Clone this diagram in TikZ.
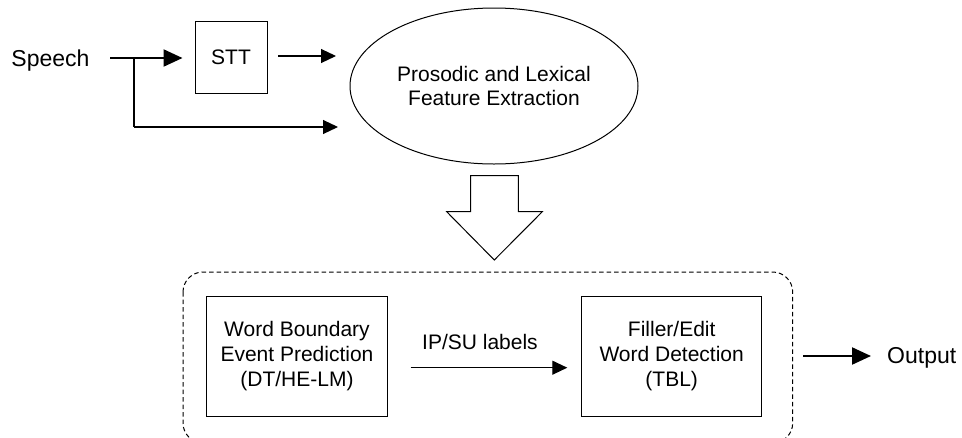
\documentclass[tikz,border=0pt]{standalone}
\usepackage{fontspec}
\setmainfont{Liberation Sans}
\usetikzlibrary{arrows.meta,shapes.geometric}
\begin{document}
\begin{tikzpicture}[x=1pt,y=-1pt,
  txt/.style={inner sep=0pt,font=\fontsize{21}{24.5}\selectfont},
  bigtxt/.style={inner sep=0pt,font=\fontsize{23}{27}\selectfont},
  boxnode/.style={draw,line width=1pt,inner sep=0pt,align=center,font=\fontsize{21}{24.8}\selectfont},
  thin arrow/.style={line width=1.1pt,-{Triangle[length=15pt,width=14pt]}},
  thick arrow/.style={line width=2.2pt,-{Triangle[length=19pt,width=17pt]}},
  groupbox/.style={draw,line width=1pt,dash pattern=on 4.5pt off 3pt,rounded corners=20pt}
]
\useasboundingbox (0,0) rectangle (962,437);
\begin{scope}
\clip (0,0) rectangle (962,437);
% nodes
\node[bigtxt,anchor=base] (speech) at (50.5,66) {Speech};
\node[boxnode,minimum width=72pt,minimum height=72pt] (stt) at (231,57) {STT};
\node[draw,ellipse,line width=1pt,minimum width=288pt,minimum height=156pt,inner sep=0pt,align=center,font=\fontsize{21}{24.5}\selectfont] (pfe) at (494,86) {Prosodic and Lexical\\Feature Extraction};
\node[boxnode,minimum width=180.6pt,minimum height=120pt] (wb) at (297,356) {Word Boundary\\Event Prediction\\(DT/HE-LM)};
\node[boxnode,minimum width=180pt,minimum height=120pt] (fe) at (671.7,356) {Filler/Edit\\Word Detection\\(TBL)};
\node[txt,anchor=base] (ipsu) at (480,349) {IP/SU labels};
\node[bigtxt,anchor=base west] (out) at (887,363) {Output};
% group box
\draw[groupbox] (183,272) rectangle (792.7,443);
% big hollow arrow
\draw[line width=1pt,line join=miter] (470.7,175.7) -- (518.3,175.7) -- (518.3,211.7) -- (542.3,211.7) -- (494.3,260) -- (446.7,211.7) -- (470.7,211.7) -- cycle;
% connector coordinates
\coordinate (s0) at (110,58);
\coordinate (br) at (134,58);
\coordinate (lowin) at (338,127);
\coordinate (sttout) at (278,56);
\coordinate (pfein) at (336,56);
\coordinate (ip0) at (410.7,367.7);
\coordinate (ip1) at (567.3,367.7);
\coordinate (o0) at (803,356);
\coordinate (o1) at (871,356);
% connectors
\draw[thick arrow,shorten >=12pt] (s0) -- (s0 -| stt.west);
\draw[line width=1.1pt] (br) -- (br |- lowin);
\draw[thin arrow] (br |- lowin) -- (lowin);
\draw[thin arrow] (sttout) -- (pfein);
\draw[thin arrow] (ip0) -- (ip1);
\draw[thick arrow] (o0) -- (o1);
\end{scope}
\end{tikzpicture}
\end{document}
